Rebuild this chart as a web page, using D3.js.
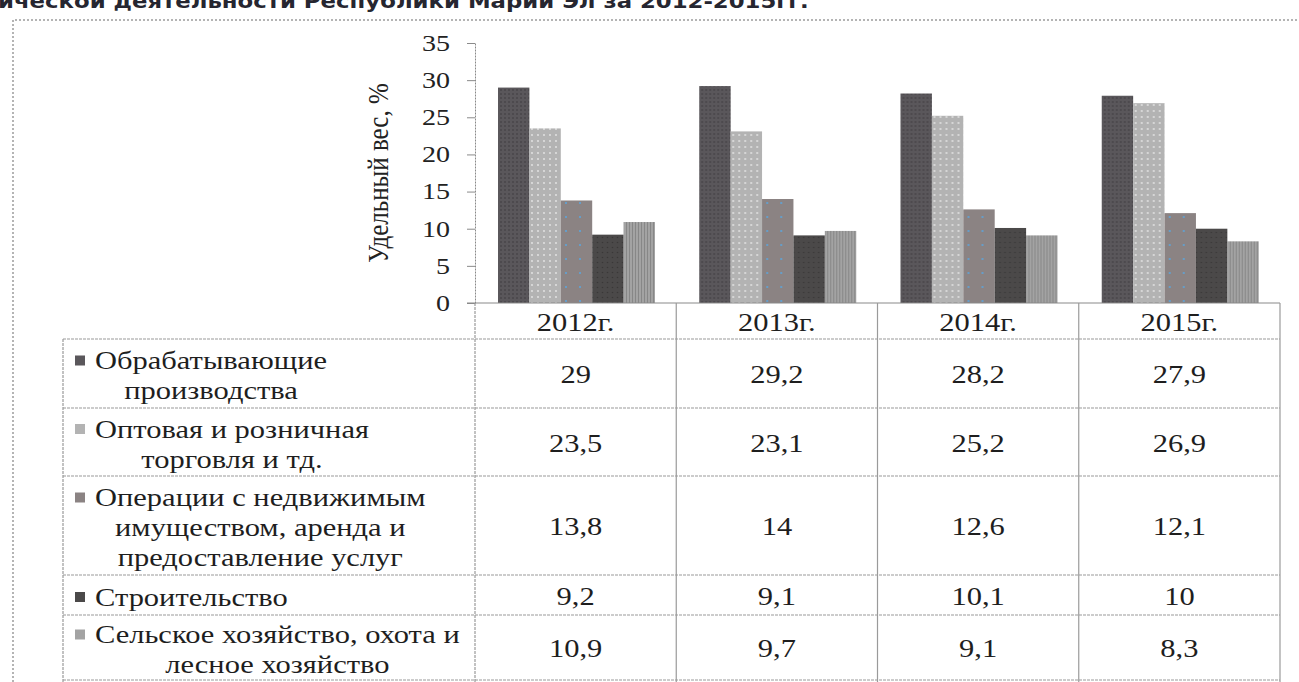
<!DOCTYPE html>
<html>
<head>
<meta charset="utf-8">
<script src="https://cdn.jsdelivr.net/npm/d3@7"></script>
<style>
  body { margin: 0; background: #fff; }
  svg { display: block; }
</style>
</head>
<body>
<script>
// data
const categories = ['2012г.', '2013г.', '2014г.', '2015г.'];
const manufacturing = [29, 29.2, 28.2, 27.9];
const trade = [23.5, 23.1, 25.2, 26.9];
const realEstate = [13.8, 14, 12.6, 12.1];
const construction = [9.2, 9.1, 10.1, 10];
const agriculture = [10.9, 9.7, 9.1, 8.3];
const seriesLabels = [
  ['Обрабатывающие', 'производства'],
  ['Оптовая и розничная', 'торговля и тд.'],
  ['Операции с недвижимым', 'имуществом,  аренда и', 'предоставление услуг'],
  ['Строительство'],
  ['Сельское хозяйство, охота и', 'лесное хозяйство']
];
const yTicks = [0, 5, 10, 15, 20, 25, 30, 35];
const yTitle = 'Удельный вес, %';
const topText = 'ической деятельности Республики Марий Эл за 2012-2015гг.';

const series = [manufacturing, trade, realEstate, construction, agriculture];

const W = 1299, H = 682;
const sx = 1.22; // the picture is stretched sideways
const serif = '"Liberation Serif", "Times New Roman", serif';

const svg = d3.select('body').append('svg')
  .attr('width', W).attr('height', H);

// patterns for the bars
const defs = svg.append('defs');
const pats = [
  { bg: '#5a575b', dot: '#3b393c', step: 4, r: 0.8 },
  { bg: '#b3b3b3', dot: '#e6e6e6', step: 6, r: 0.9 },
  { bg: '#8b8383', dot: '#5aa6e0', step: 14, r: 1 },
  { bg: '#4b4949', dot: '#3a3838', step: 5, r: 0.8 },
  { bg: '#a3a3a3', dot: '#878787', step: 3, r: 0 }
];
pats.forEach(function (p, i) {
  const pt = defs.append('pattern')
    .attr('id', 'pat' + i)
    .attr('patternUnits', 'userSpaceOnUse')
    .attr('width', p.step).attr('height', p.step);
  pt.append('rect').attr('width', p.step).attr('height', p.step).attr('fill', p.bg);
  if (p.r > 0) {
    pt.append('circle').attr('cx', p.step / 2).attr('cy', p.step / 2).attr('r', p.r).attr('fill', p.dot);
  } else {
    pt.append('rect').attr('x', 1).attr('width', 1).attr('height', p.step).attr('fill', p.dot);
  }
});

// top text, cut off by the page edge as in the source
svg.append('text')
  .attr('transform', 'translate(-2,8) scale(1.2,1)')
  .attr('font-family', '"DejaVu Sans", Verdana, sans-serif')
  .attr('font-weight', 'bold')
  .attr('font-size', 19)
  .attr('fill', '#262630')
  .text(topText);

// outer dotted frame
svg.append('path')
  .attr('d', 'M13,' + H + 'V20H' + W)
  .attr('fill', 'none')
  .attr('stroke', '#b4b4b4')
  .attr('stroke-width', 2)
  .attr('stroke-dasharray', '2,2');

// scales
const axisX = 475, plotRight = 1280;
const y = d3.scaleLinear().domain([0, 35]).range([303, 43]);
const x = d3.scaleBand().domain(categories).range([axisX, plotRight]);
const xi = d3.scaleBand().domain(d3.range(series.length)).range([23, 180]);

// bars
const groups = svg.append('g').selectAll('g')
  .data(categories)
  .join('g')
  .attr('transform', d => 'translate(' + x(d) + ',0)');

groups.selectAll('rect')
  .data((c, ci) => series.map((s, si) => ({ si: si, v: s[ci] })))
  .join('rect')
  .attr('x', d => xi(d.si))
  .attr('width', xi.bandwidth())
  .attr('y', d => y(d.v))
  .attr('height', d => y(0) - y(d.v))
  .attr('fill', d => 'url(#pat' + d.si + ')');

// y axis
const yAxis = d3.axisLeft(y).tickValues(yTicks).tickSize(8).tickSizeOuter(0);
const ga = svg.append('g')
  .attr('transform', 'translate(' + axisX + ',0)')
  .call(yAxis);
ga.select('.domain').attr('stroke', '#8a8a8a').attr('stroke-dasharray', '2,1');
ga.selectAll('.tick line').attr('stroke', '#8a8a8a');
ga.selectAll('.tick text')
  .attr('x', 0)
  .attr('transform', 'translate(-25,0) scale(' + sx + ',1)')
  .attr('font-family', serif)
  .attr('font-size', 23)
  .attr('fill', '#222');

svg.append('text')
  .attr('transform', 'translate(388,173) rotate(-90) scale(1,' + sx + ')')
  .attr('text-anchor', 'middle')
  .attr('font-family', serif)
  .attr('font-size', 25)
  .attr('fill', '#222')
  .text(yTitle);

// table
const tableLeft = 63;
const rowsY = [339, 408, 476, 575, 615, 680];
const headTop = 303;
const lines = svg.append('g').attr('stroke', '#9a9a9a').attr('stroke-width', 1.2);

lines.append('line').attr('x1', axisX - 8).attr('x2', plotRight)
  .attr('y1', headTop).attr('y2', headTop).attr('stroke', '#8a8a8a');
rowsY.forEach(function (ry) {
  lines.append('line').attr('x1', tableLeft).attr('x2', plotRight)
    .attr('y1', ry).attr('y2', ry).attr('stroke-dasharray', '3,1');
});
lines.append('line').attr('x1', tableLeft).attr('x2', tableLeft)
  .attr('y1', rowsY[0]).attr('y2', H).attr('stroke-dasharray', '3,1');
categories.concat(['end']).forEach(function (c) {
  const vx = c === 'end' ? plotRight : x(c);
  lines.append('line').attr('x1', vx).attr('x2', vx)
    .attr('y1', headTop).attr('y2', H)
    .attr('stroke-dasharray', c === categories[0] ? '3,1' : null);
});

function stretched(g, tx, ty, str, anchor) {
  return g.append('text')
    .attr('transform', 'translate(' + tx + ',' + ty + ') scale(' + sx + ',1)')
    .attr('text-anchor', anchor || 'middle')
    .attr('dy', '0.35em')
    .attr('font-family', serif)
    .attr('font-size', 25)
    .attr('fill', '#1e1e1e')
    .text(str);
}

const tg = svg.append('g');

// year headers
categories.forEach(function (c) {
  stretched(tg, x(c) + x.bandwidth() / 2, (headTop + rowsY[0]) / 2 + 1, c);
});

// values
const fmt = v => String(v).replace('.', ',');
series.forEach(function (s, si) {
  const cy = (rowsY[si] + rowsY[si + 1]) / 2 + 1;
  s.forEach(function (v, ci) {
    stretched(tg, x(categories[ci]) + x.bandwidth() / 2, cy, fmt(v));
  });
});

// legend cells
const lineGap = 30;
const textLeft = 95;
seriesLabels.forEach(function (lbl, si) {
  const cy = (rowsY[si] + rowsY[si + 1]) / 2 + 2;
  const firstY = cy - (lbl.length - 1) * lineGap / 2;
  const texts = lbl.map((l, li) => stretched(tg, 0, firstY + li * lineGap, l));
  const maxW = d3.max(texts, t => t.node().getComputedTextLength()) * sx;
  texts.forEach(function (t, li) {
    t.attr('transform', 'translate(' + (textLeft + maxW / 2) + ',' + (firstY + li * lineGap) + ') scale(' + sx + ',1)');
  });
  tg.append('rect')
    .attr('x', 75).attr('y', firstY - 5)
    .attr('width', 10).attr('height', 10)
    .attr('fill', pats[si].bg);
});
</script>
</body>
</html>
